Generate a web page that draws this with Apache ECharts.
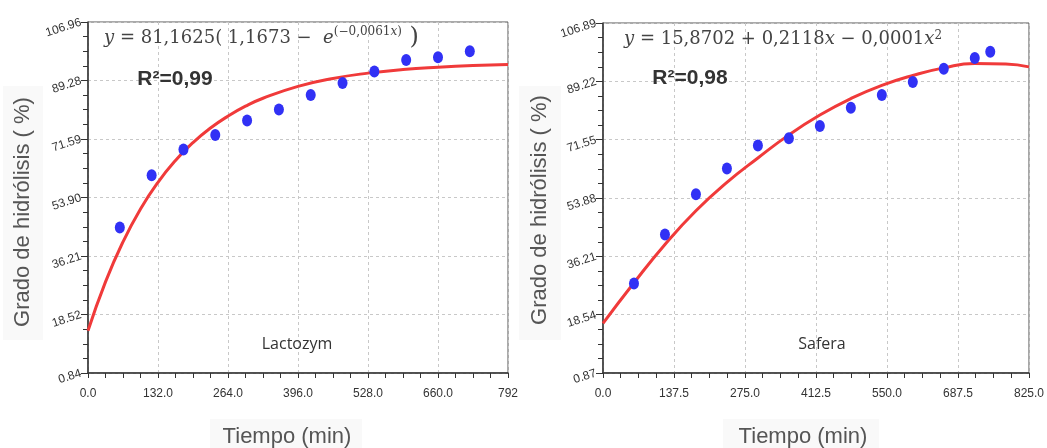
<!DOCTYPE html>
<html>
<head>
<meta charset="utf-8">
<script src="https://cdn.jsdelivr.net/npm/echarts@6/dist/echarts.min.js"></script>
<style>
  html, body { margin: 0; padding: 0; background: #fff; }
  #chart { width: 1047px; height: 448px; }
</style>
</head>
<body>
<div id="chart"></div>
<script>
// Lactozym: measured points and fitted curve
const lactoTime = [60, 120, 180, 240, 300, 360, 420, 480, 540, 600, 660, 720];
const lactoDH = [44.8, 60.6, 68.4, 72.8, 77.2, 80.5, 84.9, 88.5, 92.0, 95.5, 96.3, 98.1];
const lactoFitTime = [0, 33, 66, 99, 132, 165, 198, 231, 264, 297, 330, 396, 462, 528, 594, 660, 726, 792];
const lactoFitDH = [13.6, 28.4, 40.5, 50.4, 58.5, 65.1, 70.5, 74.9, 78.5, 81.5, 83.9, 87.5, 89.9, 91.5, 92.6, 93.3, 93.8, 94.1];

// Safera: measured points and fitted curve
const saferaTime = [60, 120, 180, 240, 300, 360, 420, 480, 540, 600, 660, 720, 750];
const saferaDH = [28.0, 42.8, 55.0, 62.8, 69.8, 72.0, 75.7, 81.2, 85.1, 89.0, 93.0, 96.3, 98.2];
const saferaFitTime = [0, 60, 120, 180, 240, 300, 360, 420, 480, 540, 600, 660, 720, 780, 825];
const saferaFitDH = [15.9, 28.2, 39.8, 50.0, 58.6, 66.0, 73.0, 79.0, 84.0, 88.0, 91.0, 93.3, 94.6, 94.5, 93.6];

// tick labels
const lactoXTicks = [0, 132, 264, 396, 528, 660, 792];
const lactoXLabels = ['0.0', '132.0', '264.0', '396.0', '528.0', '660.0', '792'];
const lactoYTicks = [0.84, 18.52, 36.21, 53.90, 71.59, 89.28, 106.96];
const saferaXTicks = [0, 137.5, 275, 412.5, 550, 687.5, 825];
const saferaXLabels = ['0.0', '137.5', '275.0', '412.5', '550.0', '687.5', '825.0'];
const saferaYTicks = [0.87, 18.54, 36.21, 53.88, 71.55, 89.22, 106.89];

const sans = '"Liberation Sans", Arial, sans-serif';
const serif = '"DejaVu Serif", serif';
const axisColor = '#333';

// 3 minor ticks between each pair of major ticks
const withMinor = (major) => {
  const out = [];
  for (let i = 0; i < major.length - 1; i++) {
    const step = (major[i + 1] - major[i]) / 4;
    for (let k = 0; k < 4; k++) out.push(major[i] + step * k);
  }
  out.push(major[major.length - 1]);
  return out;
};

const xAxisFor = (g, ticks, labels) => ({
  type: 'value',
  gridIndex: g,
  min: ticks[0],
  max: ticks[ticks.length - 1],
  interval: ticks[1] - ticks[0],
  axisLine: { show: true, lineStyle: { color: axisColor, width: 1.5 } },
  axisTick: { show: true, length: 5, lineStyle: { color: axisColor } },
  minorTick: { show: true, splitNumber: 4, length: 5, lineStyle: { color: axisColor } },
  axisLabel: {
    color: axisColor, fontFamily: sans, fontSize: 12, margin: 15,
    showMinLabel: true, showMaxLabel: true, hideOverlap: false,
    formatter: (v) => {
      let best = 0;
      ticks.forEach((t, i) => { if (Math.abs(t - v) < Math.abs(ticks[best] - v)) best = i; });
      return labels[best];
    }
  },
  splitLine: { show: true, lineStyle: { color: '#c8c8c8', type: [3, 3] } }
});

const yAxisFor = (g, ticks) => ({
  type: 'value',
  gridIndex: g,
  position: 'left',
  min: ticks[0],
  max: ticks[ticks.length - 1],
  axisLine: { show: true, lineStyle: { color: axisColor, width: 1.5 } },
  axisTick: { show: true, length: 7, customValues: ticks, lineStyle: { color: axisColor } },
  axisLabel: {
    customValues: ticks, rotate: 18, color: axisColor, fontFamily: sans, fontSize: 12, margin: 7,
    formatter: (v) => v.toFixed(2)
  },
  splitLine: { show: true, lineStyle: { color: '#c8c8c8', type: [3, 3] } }
});

// overlay axis carrying only the minor ticks
const yMinorFor = (g, ticks) => ({
  type: 'value',
  gridIndex: g,
  position: 'left',
  min: ticks[0],
  max: ticks[ticks.length - 1],
  axisLine: { show: false },
  axisTick: { show: true, length: 5, customValues: withMinor(ticks), lineStyle: { color: axisColor } },
  axisLabel: { show: false },
  splitLine: { show: false }
});

const pointStyle = { color: '#3131f5', opacity: 1 };
const lineStyle = { color: '#f03a3a', width: 3 };

const titleBox = (x, y, w, h) => ({
  type: 'rect', silent: true, z: 0,
  shape: { x, y, width: w, height: h },
  style: { fill: '#f9f9f9' }
});

const text = (x, y, str, font, fill, extra) => ({
  type: 'text', silent: true, z: 10, x, y,
  style: Object.assign({ text: str, font, fill, align: 'center', verticalAlign: 'middle' }, extra || {})
});

const eqRich = {
  n: { fontFamily: serif, fontSize: 18, fill: '#444' },
  it: { fontFamily: serif, fontSize: 18, fontStyle: 'italic', fill: '#444' },
  sup: { fontFamily: serif, fontSize: 12, fill: '#444', verticalAlign: 'top' },
  supit: { fontFamily: serif, fontSize: 12, fontStyle: 'italic', fill: '#444', verticalAlign: 'top' },
  big: { fontFamily: serif, fontSize: 24, fill: '#444' }
};

const chart = echarts.init(document.getElementById('chart'));

chart.setOption({
  backgroundColor: '#fff',
  animation: false,
  grid: [
    { left: 88, top: 22, width: 420, height: 351, show: true, borderColor: '#555', borderWidth: 1, backgroundColor: '#fff' },
    { left: 603, top: 23, width: 426, height: 350, show: true, borderColor: '#555', borderWidth: 1, backgroundColor: '#fff' }
  ],
  xAxis: [
    xAxisFor(0, lactoXTicks, lactoXLabels),
    xAxisFor(1, saferaXTicks, saferaXLabels)
  ],
  yAxis: [
    yAxisFor(0, lactoYTicks),
    yMinorFor(0, lactoYTicks),
    yAxisFor(1, saferaYTicks),
    yMinorFor(1, saferaYTicks)
  ],
  series: [
    {
      name: 'Lactozym ajuste', type: 'line', xAxisIndex: 0, yAxisIndex: 0,
      data: lactoFitTime.map((t, i) => [t, lactoFitDH[i]]),
      smooth: 0.5, showSymbol: false, lineStyle, z: 3
    },
    {
      name: 'Lactozym', type: 'scatter', xAxisIndex: 0, yAxisIndex: 0,
      data: lactoTime.map((t, i) => [t, lactoDH[i]]),
      symbol: 'circle', symbolSize: [10, 12], itemStyle: pointStyle, z: 4
    },
    {
      name: 'Safera ajuste', type: 'line', xAxisIndex: 1, yAxisIndex: 2,
      data: saferaFitTime.map((t, i) => [t, saferaFitDH[i]]),
      smooth: 0.5, showSymbol: false, lineStyle, z: 3
    },
    {
      name: 'Safera', type: 'scatter', xAxisIndex: 1, yAxisIndex: 2,
      data: saferaTime.map((t, i) => [t, saferaDH[i]]),
      symbol: 'circle', symbolSize: [10, 12], itemStyle: pointStyle, z: 4
    }
  ],
  graphic: [
    titleBox(3, 86, 40, 254),
    titleBox(519, 86, 42, 254),
    titleBox(210, 419, 152, 29),
    titleBox(723, 419, 156, 29),
    Object.assign(text(23, 212, 'Grado de hidrólisis ( %)', '22px ' + sans, '#555'), { rotation: Math.PI / 2 }),
    Object.assign(text(540, 210, 'Grado de hidrólisis ( %)', '22px ' + sans, '#555'), { rotation: Math.PI / 2 }),
    text(287, 437, 'Tiempo (min)', '22px ' + sans, '#555'),
    text(803, 437, 'Tiempo (min)', '22px ' + sans, '#555'),
    text(175, 79, 'R²=0,99', 'bold 21px ' + sans, '#333'),
    text(690, 78, 'R²=0,98', 'bold 21px ' + sans, '#333'),
    text(297, 344, 'Lactozym', '16px "Open Sans", sans-serif', '#333'),
    text(822, 344, 'Safera', '16px "Open Sans", sans-serif', '#333'),
    text(104, 38,
      '{it|y}{n| = 81,1625( 1,1673 −  }{it|e}{sup|(−0,0061}{supit|x}{sup|)}{big| )}',
      '18px ' + serif, '#444', { align: 'left', rich: eqRich }),
    text(624, 39,
      '{it|y}{n| = 15,8702 + 0,2118}{it|x}{n| − 0,0001}{it|x}{sup|2}',
      '18px ' + serif, '#444', { align: 'left', rich: eqRich })
  ]
});
</script>
</body>
</html>
